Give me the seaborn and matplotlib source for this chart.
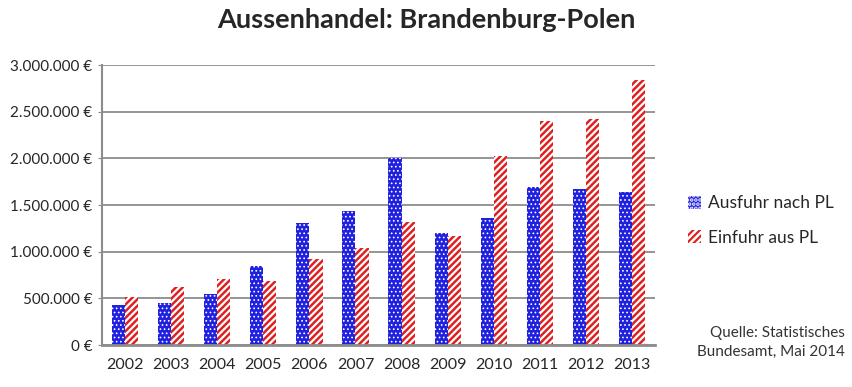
import matplotlib
matplotlib.use("Agg")
import matplotlib.pyplot as plt
import pandas as pd
import seaborn as sns

# Values (EUR)
years = ["2002", "2003", "2004", "2005", "2006", "2007",
         "2008", "2009", "2010", "2011", "2012", "2013"]
ausfuhr = [428000, 453000, 543000, 850000, 1304000, 1439000,
           2007000, 1196000, 1357000, 1689000, 1668000, 1639000]
einfuhr = [518000, 621000, 704000, 686000, 918000, 1043000,
           1314000, 1168000, 2025000, 2403000, 2418000, 2839000]
series = ["Ausfuhr nach PL", "Einfuhr aus PL"]
y_ticks = [0, 500000, 1000000, 1500000, 2000000, 2500000, 3000000]

df = pd.DataFrame({
    "Jahr": years * 2,
    "Wert": ausfuhr + einfuhr,
    "Reihe": [series[0]] * len(years) + [series[1]] * len(years),
})

sns.set_style("white")
plt.rcParams["font.family"] = ["Lato", "DejaVu Sans"]
plt.rcParams["hatch.linewidth"] = 1.8

fig = plt.figure(figsize=(8.53, 3.87), dpi=100)
ax = fig.add_axes([0.1196, 0.1085, 0.6483, 0.7235])

sns.barplot(data=df, x="Jahr", y="Wert", hue="Reihe", hue_order=series,
            palette=["#0000ff", "#ff0000"], width=0.57, errorbar=None,
            ax=ax, legend=False)

# pattern fills: white dots on blue, white diagonals on red
hatches = ["....", "/////"]
hatch_lw = [0.7, 1.6]
for cont, h, lw in zip(ax.containers, hatches, hatch_lw):
    for bar in cont:
        bar.set_hatch(h)
        bar.set_edgecolor("white")
        bar.set_linewidth(0)
        if hasattr(bar, "set_hatch_linewidth"):
            bar.set_hatch_linewidth(lw)

ax.set_xlim(-0.5, 11.5)
ax.set_ylim(0, 3000000)
ax.set_yticks(y_ticks)
ax.set_yticklabels([f"{v:,.0f} €".replace(",", ".") for v in y_ticks])
ax.yaxis.grid(True, color="#8c8c8c", linewidth=1.3)
ax.set_axisbelow(True)
ax.set_xlabel("")
ax.set_ylabel("")
for s in ["top", "right"]:
    ax.spines[s].set_visible(False)
ax.spines["left"].set_color("#8c8c8c")
ax.spines["left"].set_linewidth(1.5)
ax.spines["bottom"].set_color("#8c8c8c")
ax.spines["bottom"].set_linewidth(2)
ax.tick_params(axis="y", left=True, length=3, color="#8c8c8c", labelsize=11, pad=4)
ax.tick_params(axis="x", bottom=False, labelsize=11.5, pad=6)

fig.suptitle("Aussenhandel: Brandenburg-Polen", x=0.5, y=0.98,
             fontsize=19.5, fontweight="bold")

ax.legend(handles=list(ax.containers), labels=series, loc="center left",
          bbox_to_anchor=(0.806, 0.43), bbox_transform=fig.transFigure,
          frameon=False, fontsize=12.5, handlelength=0.8, handleheight=0.8,
          handletextpad=0.4, labelspacing=1.05, borderpad=0, borderaxespad=0)

fig.text(0.99, 0.115, "Quelle: Statistisches\nBundesamt, Mai 2014",
         ha="right", va="center", fontsize=11, color="#333333", linespacing=1.45)

fig.savefig("out.png", dpi=100)
